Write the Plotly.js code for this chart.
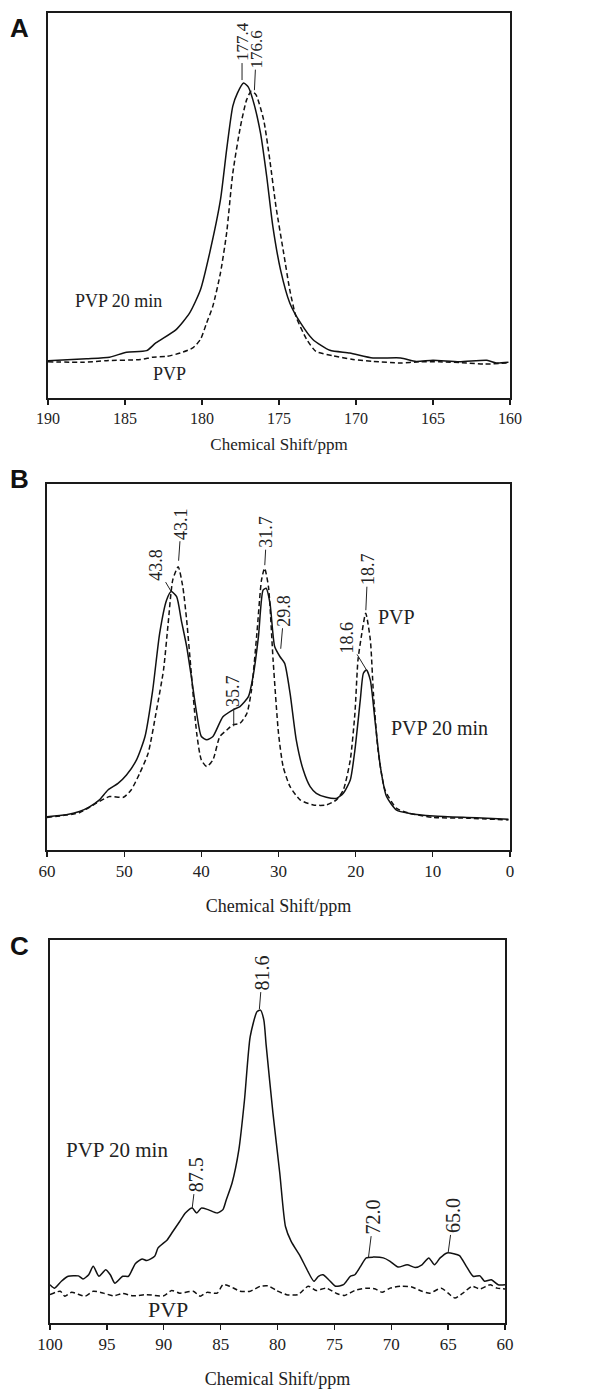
<!DOCTYPE html>
<html>
<head>
<meta charset="utf-8">
<script src="https://cdn.plot.ly/plotly-3.0.1.min.js"></script>
<style>html,body{margin:0;padding:0;background:#fff;}#chart{width:611px;height:1389px;}</style>
</head>
<body>
<div id="chart"></div>
<script>
// ---------- Panel A (carbonyl region) ----------
const ppmA_20min = [190,187.5,186,184.9,183.6,183,181.7,180.8,180.1,179.5,178.8,178.4,178.0,177.7,177.3,177.0,176.7,176.2,175.8,175.4,174.9,174.3,173.6,172.8,171.7,170.4,168.9,167.1,166.1,165.0,163.3,161.5,160.9,160.1];
const intA_20min = [9.7,10.2,10.6,11.9,12.3,14.3,17.7,22.1,28.1,37.7,51.5,64.5,75.8,79.2,81.8,80.8,77.5,68.8,57.6,44.6,33.3,24.7,19.5,15.2,12.4,11.7,10.4,10.4,9.5,9.8,9.4,9.8,9.1,9.3];
const ppmA_PVP = [190,187.7,186.2,184.0,183.2,182.3,181.4,180.6,180.1,179.7,179.3,178.8,178.4,178.0,177.5,177.1,176.8,176.5,176.0,175.6,175.2,174.7,174.3,173.9,173.2,172.6,171.5,170.2,168.9,167.1,165.9,164.6,162.8,161.7,160.1];
const intA_PVP = [9.4,9.3,9.7,10.0,10.6,10.8,11.7,13.0,15.2,19.5,23.8,32.5,42.9,58.4,70.6,77.5,79.7,78.8,72.3,61.9,49.8,37.7,28.1,21.2,15.2,12.1,11.0,10.0,9.5,9.1,9.4,9.4,9.1,8.8,9.1];
const ticksA = [190,185,180,175,170,165,160];
// peak labels: text, ppm, intensity at leader end
const peaksA_text = ["177.4","176.6"];
const peaksA_ppm  = [177.4,176.6];
const peaksA_int  = [81.8,79.7];

// ---------- Panel B (aliphatic region) ----------
const ppmB_20min = [60,57.5,55.8,54.5,53.2,52.1,50.8,49.7,48.4,47.3,46.3,45.4,44.5,43.9,43.2,42.6,41.9,41.3,40.6,40.0,39.3,38.5,37.2,35.9,35.0,33.9,33.3,32.6,32.0,31.6,31.1,30.5,29.8,29.2,28.5,27.7,26.8,25.9,25.1,23.8,22.5,21.6,20.7,20.1,19.4,19.0,18.6,18.1,17.5,16.8,16.0,14.7,13.0,9.9,5.6,3.0,0.2];
const intB_20min = [9.1,9.6,10.5,11.8,13.7,16.4,18.2,20.5,24.6,31.0,43.7,59.2,68.3,70.6,69.2,62.8,55.6,47.4,37.3,31.0,30.1,31.0,36.4,38.3,39.2,41.9,47.4,58.3,71.0,71.5,67.4,55.6,52.8,51.0,42.8,30.1,21.9,17.3,15.5,14.4,14.1,15.5,19.1,27.3,41.0,48.3,49.2,46.4,35.5,22.8,14.6,10.9,10.0,9.3,8.9,8.7,8.4];
const ppmB_PVP = [60,55.8,53.6,51.9,50.1,49.1,48.0,46.9,45.8,44.9,44.3,43.7,43.0,42.4,41.9,41.3,40.6,40.0,39.3,38.5,37.6,36.7,35.9,35.0,34.1,33.5,32.8,32.2,31.8,31.3,30.7,30.0,29.4,28.5,27.2,25.5,23.8,22.5,21.6,20.7,20.1,19.7,19.2,18.7,18.1,17.7,17.1,16.2,14.7,13.0,9.9,5.6,0.2];
const intB_PVP = [8.9,10.2,12.8,14.6,14.4,16.4,20.9,26.4,38.3,49.2,61.9,73.8,77.4,71.9,62.8,48.3,31.9,24.6,22.8,24.6,31.0,32.8,34.2,34.6,37.3,43.7,59.2,73.8,77.0,71.9,51.9,31.9,22.8,17.3,13.7,12.3,12.3,13.7,16.4,24.6,37.3,51.9,59.2,64.7,57.4,42.8,27.3,16.4,11.4,10.0,8.9,8.7,8.2];
const ticksB = [60,50,40,30,20,10,0];
const peaksB_text = ["43.8","43.1","35.7","31.7","29.8","18.6","18.7"];
const peaksB_ppm  = [43.9,43.0,35.8,31.8,29.8,18.6,18.7];
const peaksB_int  = [70.6,77.4,33.8,77.0,52.8,49.2,64.7];

// ---------- Panel C (70-90 ppm region) ----------
const ppmC_20min = [100,99.6,99.0,98.4,97.5,97.1,96.6,96.2,95.7,95.1,94.7,94.3,93.6,93.1,92.5,91.9,91.5,90.8,90.5,89.7,89.2,88.6,88.1,87.5,87.1,86.7,86.1,85.3,84.8,84.5,84.0,83.4,82.9,82.4,81.8,81.5,81.2,81.0,80.4,79.8,79.3,78.8,78.0,77.4,76.8,76.4,76.0,75.5,74.9,74.2,73.6,73.2,72.7,72.2,71.6,70.7,70.1,69.4,68.6,67.9,67.3,66.7,66.2,65.7,65.1,64.5,64.0,63.4,62.8,62.2,61.8,61.2,60.6,60.0];
const intC_20min = [10.0,9.1,10.9,12.2,12.3,11.5,12.6,14.8,12.2,13.9,12.6,10.4,12.2,12.2,15.5,16.7,16.3,17.4,19.6,21.7,23.9,26.5,28.7,30.0,28.7,30.0,29.6,28.7,29.6,32.2,36.5,45.2,58.3,74.8,81.3,81.7,79.1,72.6,54.8,39.1,25.2,21.3,17.4,13.9,10.9,12.2,12.6,11.3,9.6,10.0,12.2,12.6,14.8,17.0,17.2,17.0,16.1,14.6,15.2,14.5,15.2,17.0,15.2,17.0,18.3,18.1,17.6,14.8,12.2,12.3,10.9,11.3,10.0,10.0];
const ppmC_PVP = [100,99.1,98.7,98.1,96.9,96.2,95.3,94.4,93.6,92.7,91.5,90.0,89.3,88.6,87.4,86.8,86.2,85.3,84.8,84.2,83.3,82.4,81.5,80.8,80.1,79.2,78.2,77.3,76.6,75.7,74.8,74.1,73.2,72.2,71.4,70.8,70.1,69.1,68.2,67.3,66.6,65.6,65.0,64.4,63.7,62.9,62.2,61.3,60.7,60.0];
const intC_PVP = [7.4,8.3,7.0,8.0,7.0,8.3,7.8,7.1,7.7,7.1,7.4,7.1,8.5,7.8,8.3,7.0,8.0,7.8,10.0,9.6,8.3,8.3,9.6,9.7,8.5,7.4,7.4,9.6,8.5,9.1,7.7,7.2,8.5,9.1,8.9,8.0,9.1,9.6,9.4,8.3,7.8,9.1,7.8,6.5,7.8,9.6,8.9,10.0,9.1,8.9];
const ticksC = [100,95,90,85,80,75,70,65,60];
const peaksC_text = ["87.5","81.6","72.0","65.0"];
const peaksC_ppm  = [87.5,81.6,72.0,65.0];
const peaksC_int  = [30.0,81.7,17.2,18.3];

// ---------- styling ----------
const SERIF = "Liberation Serif, Times New Roman, serif";
const SANS = "Liberation Sans, Arial, sans-serif";
const W = 611, H = 1389;
const px2fx = p => p / W;
const px2fy = p => 1 - p / H;

function line(x, y, xa, ya, dashed) {
  return {type:'scatter', mode:'lines', x:x, y:y, xaxis:xa, yaxis:ya,
    line:{color:'#111', width:1.5, dash: dashed ? '5px,3px' : 'solid', shape:'spline', smoothing:0.6},
    hoverinfo:'skip', showlegend:false};
}
const data = [
  line(ppmA_20min, intA_20min, 'x', 'y', false),
  line(ppmA_PVP, intA_PVP, 'x', 'y', true),
  line(ppmB_20min, intB_20min, 'x2', 'y2', false),
  line(ppmB_PVP, intB_PVP, 'x2', 'y2', true),
  line(ppmC_20min, intC_20min, 'x3', 'y3', false),
  line(ppmC_PVP, intC_PVP, 'x3', 'y3', true)
];

function xax(domPx, rng, ticks, tickSize, titleSize, standoff) {
  return {domain:[px2fx(domPx[0]), px2fx(domPx[1])], range:rng, tickvals:ticks,
    ticktext: ticks.map(String),
    showline:true, mirror:true, linecolor:'#1a1a1a', linewidth:1.7, ticks:'outside', ticklen:5, tickwidth:1.3, tickcolor:'#1a1a1a',
    showgrid:false, zeroline:false, fixedrange:true,
    tickfont:{family:SERIF, size:tickSize, color:'#222'},
    title:{text:'Chemical Shift/ppm', font:{family:SERIF, size:titleSize, color:'#222'}, standoff:standoff}};
}
function yax(domPx) {
  return {domain:[px2fy(domPx[1]), px2fy(domPx[0])], range:[0,100], showline:true, mirror:true,
    linecolor:'#1a1a1a', linewidth:1.7, showticklabels:false, ticks:'', showgrid:false, zeroline:false, fixedrange:true};
}

const annotations = [];
function peakLabels(texts, ppm, ints, xr, yr, offs, size) {
  texts.forEach((t, i) => {
    annotations.push({xref:xr, yref:yr, x:ppm[i], y:ints[i], text:t, textangle:-90,
      showarrow:true, arrowhead:0, arrowwidth:1, arrowcolor:'#222', ax:offs[i][0], ay:offs[i][1], standoff:offs[i][2],
      font:{family:SERIF, size:size, color:'#222'}, borderpad:1});
  });
}
peakLabels(peaksA_text, peaksA_ppm, peaksA_int, 'x', 'y', [[0,-41,3],[2,-42,1]], 17);
peakLabels(peaksB_text, peaksB_ppm, peaksB_int, 'x2', 'y2',
  [[-16,-27,0],[3,-43,6],[0,-35,0],[2,-36,3],[4,-46,8],[-20,-33,0],[2,-44,3]], 18);
peakLabels(peaksC_text, peaksC_ppm, peaksC_int, 'x3', 'y3', [[4,-33,0],[3,-37,1],[5,-40,0],[5,-37,0]], 20);

function textAt(xr, yr, x, y, t, size) {
  annotations.push({xref:xr, yref:yr, x:x, y:y, text:t, showarrow:false, xanchor:'left', yanchor:'middle',
    font:{family:SERIF, size:size, color:'#222'}});
}
textAt('x', 'y', 188.4, 25.1, 'PVP 20 min', 18);
textAt('x', 'y', 183.3, 6.3, 'PVP', 18);
textAt('x2', 'y2', 17.4, 63.6, 'PVP', 20);
textAt('x2', 'y2', 15.7, 33.2, 'PVP 20 min', 20);
textAt('x3', 'y3', 98.8, 45.2, 'PVP 20 min', 21);
textAt('x3', 'y3', 91.6, 3.5, 'PVP', 22);

[['A',28],['B',479],['C',946]].forEach(([t, py]) => {
  annotations.push({xref:'paper', yref:'paper', x:px2fx(19), y:px2fy(py), text:'<b>'+t+'</b>', showarrow:false,
    xanchor:'center', yanchor:'middle', font:{family:SANS, size:26, color:'#111'}});
});

const layout = {
  width:W, height:H, margin:{l:0, r:0, t:0, b:0}, paper_bgcolor:'#fff', plot_bgcolor:'#fff', showlegend:false,
  xaxis: xax([48,510], [190,160], ticksA, 16, 17, 12),
  yaxis: yax([13,398]),
  xaxis2: Object.assign(xax([47,510], [60,0], ticksB, 17, 18, 19), {anchor:'y2'}),
  yaxis2: Object.assign(yax([484,850]), {anchor:'x2'}),
  xaxis3: Object.assign(xax([50,505], [100,60], ticksC, 17, 18, 21), {anchor:'y3'}),
  yaxis3: Object.assign(yax([940,1323]), {anchor:'x3'}),
  annotations: annotations
};
layout.xaxis.anchor = 'y';
layout.yaxis.anchor = 'x';

Plotly.newPlot('chart', data, layout, {staticPlot:true, displayModeBar:false});
</script>
</body>
</html>
